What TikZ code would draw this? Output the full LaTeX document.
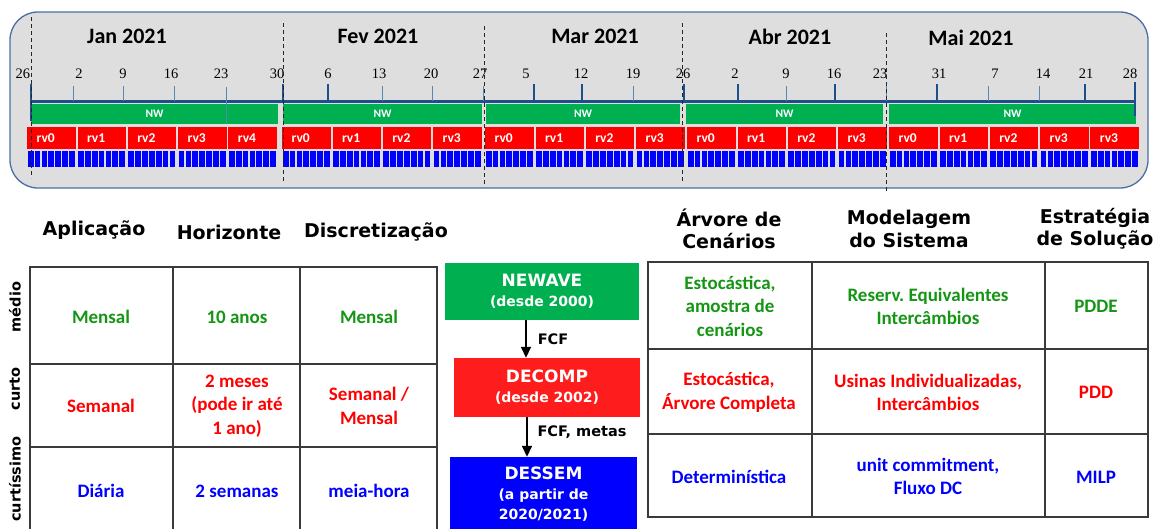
\documentclass[tikz,border=0pt]{standalone}
\usepackage{fontspec}
\usetikzlibrary{arrows.meta}
\newfontfamily\dvs{DejaVu Sans}
\newfontfamily\carl{Carlito}
\newfontfamily\tms{Liberation Serif}
\definecolor{bgray}{HTML}{DEDEDE}
\definecolor{bborder}{HTML}{4A6FA5}
\definecolor{nwgreen}{HTML}{00B050}
\definecolor{rvred}{HTML}{FF0000}
\definecolor{dayblue}{HTML}{0000FF}
\definecolor{axisblue}{HTML}{1F4E8C}
\definecolor{ticklight}{HTML}{5A86B4}
\definecolor{tgreen}{RGB}{20,150,20}
\definecolor{tred}{HTML}{FF0000}
\definecolor{tblue}{HTML}{0000FF}
\definecolor{gridc}{HTML}{3A3A3A}
\definecolor{decred}{HTML}{FF1C1C}
\frenchspacing
\begin{document}
\begin{tikzpicture}[x=1pt,y=-1pt,
  month/.style={font=\carl\bfseries\fontsize{22}{26}\selectfont, inner sep=0},
  daynum/.style={font=\tms\fontsize{14.5}{16}\selectfont, inner sep=0},
  nwbar/.style={fill=nwgreen, minimum height=20pt, inner sep=0, text=white, font=\carl\bfseries\fontsize{11.5}{13}\selectfont},
  rvbox/.style={fill=rvred, minimum width=48.5pt, minimum height=22pt, inner sep=0, anchor=north west},
  rvtxt/.style={text=white, font=\carl\bfseries\fontsize{13.5}{15}\selectfont, inner sep=0, anchor=west},
  tickdark/.style={draw=axisblue, line width=1.6pt},
  ticklt/.style={draw=ticklight, line width=0.9pt},
  monthsep/.style={draw=black!85, dash pattern=on 4pt off 3pt, line width=1pt},
  hdr/.style={font=\dvs\bfseries\fontsize{19}{22.5}\selectfont, align=center, inner sep=0},
  rowlbl/.style={font=\dvs\bfseries\fontsize{14.5}{17}\selectfont, rotate=90, inner sep=0},
  cell/.style={font=\carl\bfseries\fontsize{19}{23.5}\selectfont, align=center, inner sep=0},
  tabline/.style={draw=gridc, line width=1.5pt},
  model/.style={text=white, align=center, inner sep=0, font=\dvs\bfseries\fontsize{14}{20}\selectfont},
  arr/.style={-{Triangle[length=11pt,width=10pt]}, line width=1.6pt},
  flow/.style={font=\dvs\bfseries\fontsize{14.5}{17}\selectfont, inner sep=0}
]
\fill[white] (0,0) rectangle (1156,528);
\useasboundingbox (0,0) rectangle (1156,528);

% ---------------- timeline ----------------
\draw[draw=bborder, fill=bgray, line width=1.3pt, rounded corners=28pt] (10,12) rectangle (1148,188);

\node[month] (mjan) at (127,36) {Jan 2021};
\node[month] (mfev) at (378,36) {Fev 2021};
\node[month] (mmar) at (595,36) {Mar 2021};
\node[month] (mabr) at (790,37) {Abr 2021};
\node[month] (mmai) at (971,38) {Mai 2021};

\foreach \dl/\dx [count=\c] in {26/23,2/79,9/123,16/171,23/221,30/277,6/328,13/379,20/431,27/480,5/526,12/581,19/633,26/683,2/735,9/786,16/834,23/880,31/939,7/995,14/1043,21/1086,28/1130}
  \node[daynum] (day\c) at (\dx,73.5) {\dl};

\draw[draw=axisblue, line width=2.2pt] (31,101.5) -- (1136,101.5);

\node[nwbar, minimum width=247pt] (nwa) at (154.5,114) {NW};
\node[nwbar, minimum width=199pt] (nwb) at (382.5,114) {NW};
\node[nwbar, minimum width=194pt] (nwc) at (583,114) {NW};
\node[nwbar, minimum width=197pt] (nwd) at (784.5,114) {NW};
\node[nwbar, minimum width=247pt] (nwe) at (1012.5,114) {NW};

\foreach \tx in {283,328,534,582,684,738,835,937,1085}
  \draw[tickdark] (\tx,84) -- (\tx,101);
\foreach \tx in {73,123,174,382,432,483,633,786,886,988,1039}
  \draw[ticklt] (\tx,86) -- (\tx,101);
\draw[ticklt] (226,87) -- (226,123);
\draw[tickdark] (31,84) -- (31,121);
\draw[tickdark] (1135,82) -- (1135,116);

\foreach \mx/\last/\mid/\maxl in {27/4/a/4, 282/3/b/3, 485/3/c/3, 687/3/d/3, 889/4/e/3}{
  \foreach \i in {0,...,\last}{
    \pgfmathsetmacro\bx{\mx+\i*50.3}
    \pgfmathtruncatemacro\lab{min(\i,\maxl)}
    \node[rvbox] (rv\mid\i) at (\bx,127) {};
    \node[rvtxt] (rvl\mid\i) at ([xshift=9.5pt]rv\mid\i.west) {rv\lab};
    \foreach \k in {0,...,6}{
      \fill[dayblue] (\bx+0.8+\k*6.85,151) rectangle ++(5.7,16);
    }
  }
}

\draw[monthsep] (31,17) -- (31,178);
\draw[monthsep] (283,23) -- (283,183);
\draw[monthsep] (484,26) -- (484,187);
\draw[monthsep] (682,23) -- (682,183);
\draw[monthsep] (886,33) -- (886,193);

% ---------------- left table ----------------
\node[hdr] (happ) at (94,230) {Aplicação};
\node[hdr] (hhor) at (229,232) {Horizonte};
\node[hdr] (hdis) at (376,232) {Discretização};

\draw[tabline] (30,530) -- (30,267) -- (437,267) -- (437,530);
\draw[tabline] (173,267) -- (173,530);
\draw[tabline] (300,267) -- (300,530);
\draw[tabline] (30,364) -- (437,364);
\draw[tabline] (30,447) -- (437,447);

\node[rowlbl] (rmed) at (15,307) {médio};
\node[rowlbl] (rcur) at (15,389) {curto};
\node[rowlbl] (rcurt) at (15,479) {curtíssimo};

\node[cell, text=tgreen] (c11) at (101,317) {Mensal};
\node[cell, text=tgreen] (c12) at (237,317) {10 anos};
\node[cell, text=tgreen] (c13) at (369,317) {Mensal};
\node[cell, text=tred] (c21) at (101,406) {Semanal};
\node[cell, text=tred] (c22) at (237,406) {2 meses\\(pode ir até\\1 ano)};
\node[cell, text=tred] (c23) at (369,406) {Semanal /\\Mensal};
\node[cell, text=tblue] (c31) at (101,491) {Diária};
\node[cell, text=tblue] (c32) at (237,491) {2 semanas};
\node[cell, text=tblue] (c33) at (369,491) {meia-hora};

% ---------------- models ----------------
\node[model, fill=nwgreen, minimum width=194pt, minimum height=57pt] (newave) at (542,291.5)
  {{\fontsize{17}{20}\selectfont NEWAVE}\\(desde 2000)};
\node[model, fill=decred, minimum width=186pt, minimum height=59pt] (decomp) at (547,387.5)
  {{\fontsize{17}{20}\selectfont DECOMP}\\(desde 2002)};
\node[model, fill=dayblue, minimum width=187pt, minimum height=74pt] (dessem) at (543.5,494)
  {{\fontsize{17}{20}\selectfont DESSEM}\\(a partir de\\2020/2021)};

\coordinate (ax1) at (526,0);
\coordinate (ax2) at (527,0);
\draw[arr] (newave.south -| ax1) -- (decomp.north -| ax1);
\draw[arr] (decomp.south -| ax2) -- (dessem.north -| ax2);
\node[flow] (fcf1) at (553,339) {FCF};
\node[flow] (fcf2) at (582,432) {FCF, metas};

% ---------------- right table ----------------
\node[hdr] (harv) at (729,229) {Árvore de\\Cenários};
\node[hdr] (hmod) at (909,229) {Modelagem\\do Sistema};
\node[hdr] (hest) at (1095,229) {Estratégia\\de Solução};

\draw[tabline] (648,262) rectangle (1148,517);
\draw[tabline] (812,262) -- (812,517);
\draw[tabline] (1045,262) -- (1045,517);
\draw[tabline] (648,349) -- (1148,349);
\draw[tabline] (648,434) -- (1148,434);

\node[cell, text=tgreen] (d11) at (730,306) {Estocástica,\\amostra de\\cenários};
\node[cell, text=tgreen] (d12) at (928,306.5) {Reserv. Equivalentes\\Intercâmbios};
\node[cell, text=tgreen] (d13) at (1096,306) {PDDE};
\node[cell, text=tred] (d21) at (729,392.5) {Estocástica,\\Árvore Completa};
\node[cell, text=tred] (d22) at (928,392.5) {Usinas Individualizadas,\\Intercâmbios};
\node[cell, text=tred] (d23) at (1096,392) {PDD};
\node[cell, text=tblue] (d31) at (729,477) {Determinística};
\node[cell, text=tblue] (d32) at (928,476.5) {unit commitment,\\Fluxo DC};
\node[cell, text=tblue] (d33) at (1096,477) {MILP};
\end{tikzpicture}
\end{document}
